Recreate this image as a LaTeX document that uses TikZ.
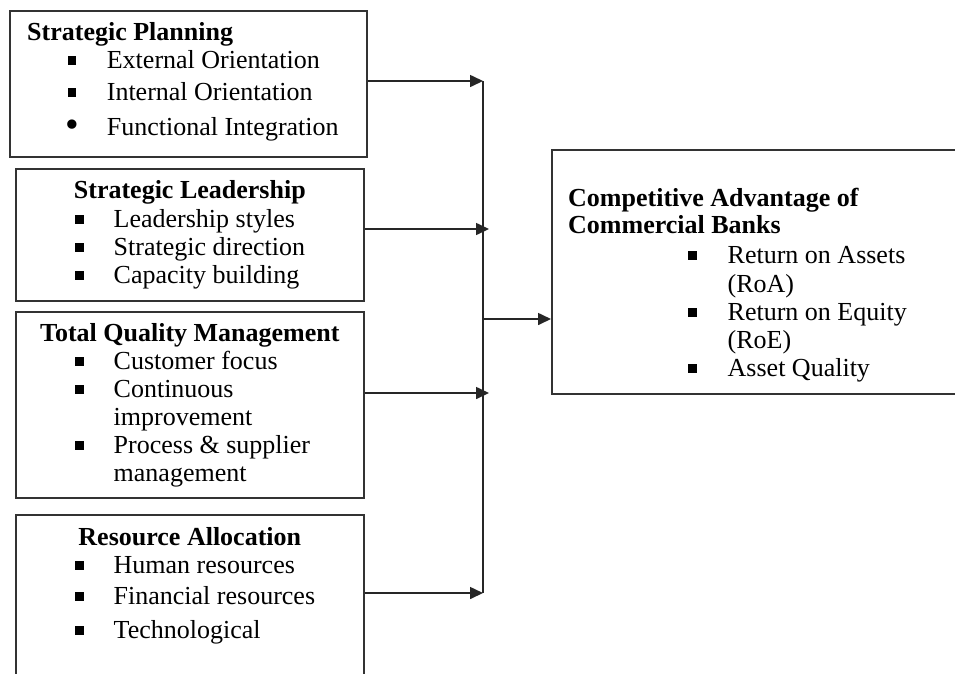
\documentclass[tikz,border=0pt]{standalone}
\usepackage{fontspec}
\setmainfont{Liberation Serif}
\usetikzlibrary{arrows.meta, positioning, calc}

\newcommand{\sqitem}{\rule[3.5pt]{8.5pt}{8.5pt}}
\newcommand{\dotitem}{\raisebox{-2pt}{\scalebox{1.5}{\textbullet}}}

\begin{document}
\begin{tikzpicture}[
  x=1pt, y=-1pt,
  box/.style = {
    draw=black!80,
    line width=1.6pt,
    anchor=north west,
    inner sep=0pt
  },
  head/.style = {
    font=\fontsize{26}{28}\selectfont\bfseries,
    inner sep=0pt
  },
  list/.style = {
    font=\fontsize{26}{28}\selectfont,
    inner sep=0pt,
    anchor=base west
  },
  bus/.style = {line width=1.6pt, draw=black!85},
  arrow/.style = {
    line width=1.6pt,
    draw=black!85,
    -{Triangle[length=13pt, width=12pt]}
  }
]

\clip (0,0) rectangle (955,673);
\fill[white] (0,0) rectangle (955,673);

% ======================================================
% FACTOR BOXES (left column)
% ======================================================

\node[box, minimum width=357pt, minimum height=146pt] (plan)  at (9,10)   {};
\node[box, minimum width=348pt, minimum height=132pt] (lead)  at (15,168) {};
\node[box, minimum width=348pt, minimum height=186pt] (tqm)   at (15,311) {};
\node[box, minimum width=348pt, minimum height=175pt] (alloc) at (15,514) {};

\node[head, anchor=base west] (plan_head) at ($(plan.north west)+(18,30)$) {Strategic Planning};
\node[list] (plan_list) at ($(plan.north west)+(56,58)$) {%
  \begin{tabular}[t]{@{}c@{\hspace{28pt}}l@{}}
    \sqitem  & External Orientation \\[4pt]
    \sqitem  & Internal Orientation \\[7pt]
    \dotitem & Functional Integration
  \end{tabular}};

\node[head, anchor=base] (lead_head) at ($(lead.north)+(0,30)$) {Strategic Leadership};
\node[list] (lead_list) at ($(lead.north west)+(60,59)$) {%
  \begin{tabular}[t]{@{}c@{\hspace{30pt}}l@{}}
    \sqitem & Leadership styles \\
    \sqitem & Strategic direction \\
    \sqitem & Capacity building
  \end{tabular}};

\node[head, anchor=base] (tqm_head) at ($(tqm.north)+(0,30)$) {Total Quality Management};
\node[list] (tqm_list) at ($(tqm.north west)+(60,58)$) {%
  \begin{tabular}[t]{@{}c@{\hspace{30pt}}l@{}}
    \sqitem & Customer focus \\
    \sqitem & Continuous \\
            & improvement \\
    \sqitem & Process \& supplier \\
            & management
  \end{tabular}};

\node[head, anchor=base] (alloc_head) at ($(alloc.north)+(0,31)$) {Resource Allocation};
\node[list] (alloc_list) at ($(alloc.north west)+(60,59)$) {%
  \begin{tabular}[t]{@{}c@{\hspace{30pt}}l@{}}
    \sqitem & Human resources \\[3pt]
    \sqitem & Financial resources \\[6pt]
    \sqitem & Technological
  \end{tabular}};

% ======================================================
% OUTCOME BOX (right)
% ======================================================

\node[box, minimum width=430pt, minimum height=244pt] (advantage) at (551,149) {};

\node[head, anchor=base west] (advantage_head) at ($(advantage.north west)+(17,57)$) {%
  \begin{tabular}[t]{@{}l@{}}
    Competitive Advantage of \\[-1pt]
    Commercial Banks
  \end{tabular}};
\node[list] (advantage_list) at ($(advantage.north west)+(137,114)$) {%
  \begin{tabular}[t]{@{}c@{\hspace{31pt}}l@{}}
    \sqitem & Return on Assets \\[1pt]
            & (RoA) \\
    \sqitem & Return on Equity \\
            & (RoE) \\
    \sqitem & Asset Quality
  \end{tabular}};

% ======================================================
% CONNECTORS
% ======================================================

\coordinate (bus_top) at (483,81);
\coordinate (bus_bot) at (483,593);
\coordinate (in_lead) at (489,229);
\coordinate (in_tqm)  at (489,393);
\coordinate (bus_out) at (483,319);

\draw[bus] (bus_top) -- (bus_bot);

\draw[arrow] (plan.east |- bus_top) -- (bus_top);
\draw[arrow] (lead.east |- in_lead) -- (in_lead);
\draw[arrow] (tqm.east |- in_tqm) -- (in_tqm);
\draw[arrow] (alloc.east |- bus_bot) -- (bus_bot);

\draw[arrow] (bus_out) -- (bus_out -| advantage.west);

\end{tikzpicture}
\end{document}
